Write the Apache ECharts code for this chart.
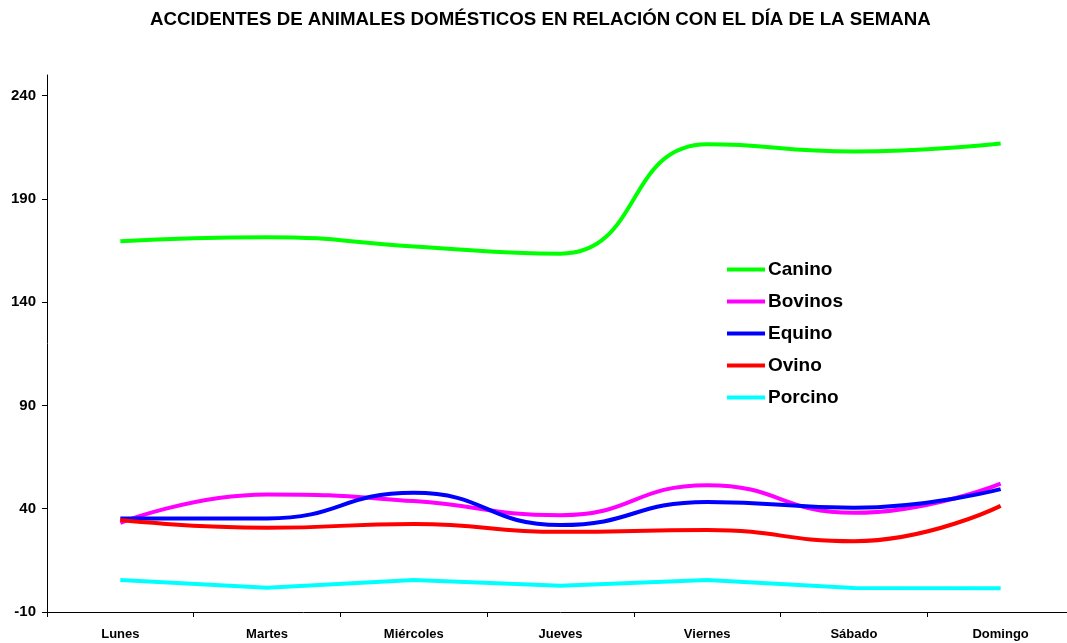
<!DOCTYPE html>
<html lang="es">
<head>
	<meta charset="UTF-8">
	<title>Accidentes de animales domésticos</title>
	<script src="https://cdn.jsdelivr.net/npm/echarts@6/dist/echarts.min.js"></script>
	<style>
		html,body{margin:0;background:#fff;overflow:hidden;}
	</style>
</head>
<body>
	<!-- el eje X de la figura original sigue un poco más allá del borde derecho -->
	<div id="app" style="width:1074px;height:643px"></div>

	<script>
		var dias=["Lunes","Martes","Miércoles","Jueves","Viernes","Sábado","Domingo"];
		var canino=[169.5,171.5,167,163.5,216.5,213,216.8];
		var bovinos=[33.2,46.9,43.7,36.9,51.4,38,52.2];
		var equino=[35.3,35.3,47.7,32.1,43.3,40.5,49.5];
		var ovino=[34.5,30.8,32.6,28.8,29.7,24.3,41.4];
		var porcino=[5.5,1.8,5.5,2.7,5.5,1.6,1.5];
		var yTicks=[-10,40,90,140,190,240];

		var fuente="Liberation Sans, Arial, sans-serif";
		var myChart=echarts.init(document.getElementById('app'));

		function serie(nombre,datos,color,suave){
			return {
				name:nombre,
				type:"line",
				data:datos,
				smooth:suave?0.5:false,
				symbol:"none",
				lineStyle:{color:color,width:4},
				itemStyle:{color:color}
			};
		}

		var option={
			backgroundColor:"#fff",
			animation:false,
			title:{
				text:"ACCIDENTES DE ANIMALES DOMÉSTICOS EN RELACIÓN CON EL DÍA DE LA SEMANA",
				left:145,
				top:5,
				textStyle:{fontFamily:fuente,fontSize:18.7,fontWeight:"bold",color:"#000"}
			},
			legend:{
				orient:"vertical",
				left:722,
				top:255,
				itemWidth:38,
				itemHeight:4,
				itemGap:13,
				icon:"rect",
				textStyle:{fontFamily:fuente,fontSize:19,fontWeight:"bold",color:"#000",padding:[0,0,0,-2]},
				data:["Canino","Bovinos","Equino","Ovino","Porcino"]
			},
			grid:{left:47,right:0,top:75,bottom:31,containLabel:false},
			xAxis:{
				type:"category",
				data:dias,
				boundaryGap:true,
				axisLine:{onZero:false,lineStyle:{color:"#000",width:1}},
				axisTick:{show:true,length:5,lineStyle:{color:"#000"}},
				axisLabel:{fontFamily:fuente,fontSize:13,fontWeight:"bold",color:"#000",margin:16,interval:0}
			},
			yAxis:{
				type:"value",
				min:yTicks[0],
				max:250,
				interval:50,
				splitLine:{show:false},
				axisLine:{show:true,lineStyle:{color:"#000",width:1}},
				axisTick:{show:true,length:5,lineStyle:{color:"#000"}},
				axisLabel:{fontFamily:fuente,fontSize:15,fontWeight:"bold",color:"#000",margin:11,showMaxLabel:false}
			},
			series:[
				serie("Canino",canino,"#00FF00",true),
				serie("Bovinos",bovinos,"#FF00FF",true),
				serie("Equino",equino,"#0000FF",true),
				serie("Ovino",ovino,"#FF0000",true),
				serie("Porcino",porcino,"#00FFFF",false)
			]
		};
		myChart.setOption(option);
	</script>
</body>
</html>
